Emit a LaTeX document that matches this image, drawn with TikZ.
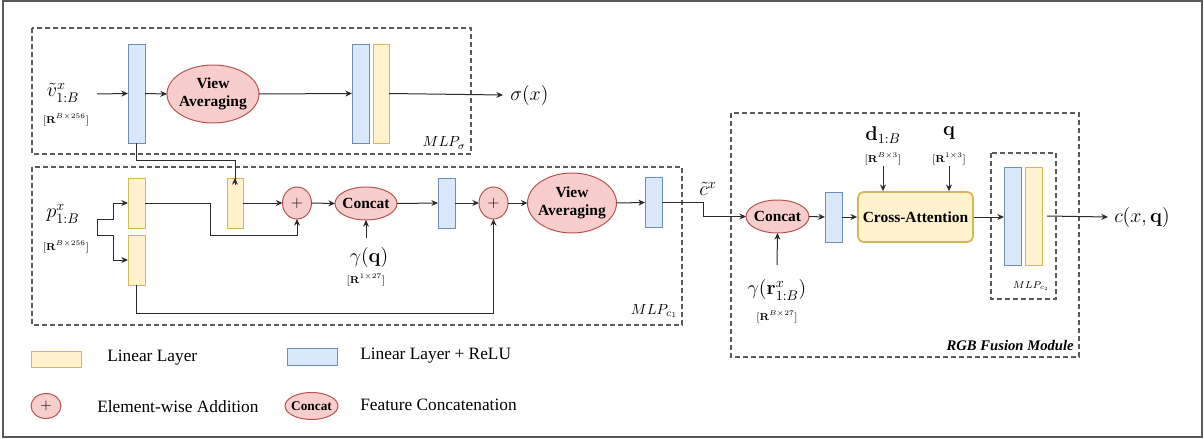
\documentclass[tikz,border=0pt]{standalone}
\usepackage{fix-cm}
\usepackage{amsmath}
\usepackage[no-math]{fontspec}
\setmainfont{Liberation Serif}
\usetikzlibrary{arrows.meta,shapes.geometric}

\definecolor{blueF}{HTML}{DAE8FC}
\definecolor{blueD}{HTML}{6C8EBF}
\definecolor{yelF}{HTML}{FFF2CC}
\definecolor{yelD}{HTML}{D6B656}
\definecolor{redF}{HTML}{F8CECC}
\definecolor{redD}{HTML}{B85450}
\definecolor{wirec}{HTML}{2B2B2B}
\definecolor{framec}{HTML}{5A5A5A}

\begin{document}
\begin{tikzpicture}[x=0.75pt,y=-0.75pt,
  bar/.style={draw,line width=0.75pt,inner sep=0,outer sep=0,minimum width=12.75pt},
  relu/.style={bar,draw=blueD,fill=blueF},
  lin/.style={bar,draw=yelD,fill=yelF},
  oper/.style={ellipse,draw=redD,fill=redF,line width=0.75pt,inner sep=0,outer sep=0},
  optext/.style={font=\fontsize{11.6}{13.5}\selectfont\bfseries,align=center},
  link/.style={draw=wirec,line width=0.75pt},
  arr/.style={link,-{Stealth[length=5pt,width=4.5pt]}},
  group/.style={draw=framec,line width=1pt,dash pattern=on 3.75pt off 2.25pt},
  big/.style={font=\fontsize{15}{17}\selectfont,inner sep=0},
  dims/.style={font=\fontsize{7.5}{9}\selectfont,inner sep=0},
  tag/.style={font=\fontsize{11}{13}\selectfont,inner sep=0},
  legtext/.style={font=\fontsize{13}{15}\selectfont,inner sep=0,anchor=west},
]
\useasboundingbox (0,0) rectangle (1204,439);
\draw[draw=framec,line width=1pt] (3,1) rectangle (1202,437);

% ---------- group frames ----------
\draw[group] (32,28) rectangle (471,154);
\draw[group] (32,167) rectangle (682,325);
\draw[group] (731,113) rectangle (1079,357);
\draw[group] (991,153) rectangle (1056,299);

\node[tag,anchor=east] at (466,143) {$MLP_{\sigma}$};
\node[tag,anchor=east] at (678,311) {$MLP_{c_1}$};
\node[font=\fontsize{7.5}{9}\selectfont,inner sep=0] at (1031,286) {$MLP_{c_2}$};
\node[font=\fontsize{11}{13}\selectfont\bfseries\itshape,inner sep=0,anchor=east] at (1074,345) {RGB Fusion Module};

% ---------- density branch ----------
\node[big] (vlab) at (63,93) {$\tilde{v}^{x}_{1:B}$};
\node[dims] (vdim) at (66,120) {$[\mathbf{R}^{B\times 256}]$};
\coordinate (vin) at (97,94);
\node[relu,minimum height=74.25pt] (b1) at (136.5,93.5) {};
\node[oper,minimum width=69pt,minimum height=43.5pt,
      label={[optext]center:View\\Averaging}] (va1) at (213,94) {};
\node[relu,minimum height=74.25pt] (b2) at (360.5,93.5) {};
\node[lin,minimum height=74.25pt,minimum width=12pt] (y1) at (381,93.5) {};
\node[big,anchor=west] (sig) at (510,95) {$\sigma(x)$};

\draw[arr] (vin) -- (b1.west);
\draw[arr] (b1.east) -- (va1.west);
\draw[arr] (va1.east) -- (b2.west);
\draw[arr] (y1.east) -- ([xshift=-5.25pt]sig.west);

% ---------- colour branch ----------
\node[big] (plab) at (63,214) {$p^{x}_{1:B}$};
\node[dims] (pdim) at (66,247) {$[\mathbf{R}^{B\times 256}]$};
\coordinate (fa) at (97,219);
\coordinate (fb) at (97,235);
\node[lin,minimum height=37.5pt] (yA) at (136.5,203) {};
\node[lin,minimum height=37.5pt] (yB) at (136.5,260) {};
\node[lin,minimum height=37.5pt,minimum width=12pt] (yC) at (235,203) {};
\node[oper,minimum width=21.75pt,minimum height=24pt] (p1) at (297,203) {\fontsize{12}{14}\selectfont$+$};
\node[oper,minimum width=46.5pt,minimum height=24.75pt,
      label={[optext]center:Concat}] (cc1) at (366,203.5) {};
\node[big] (gq) at (369,257) {$\gamma(\mathbf{q})$};
\node[dims] (gqdim) at (366,280) {$[\mathbf{R}^{1\times 27}]$};
\coordinate (gqtop) at (366,238);
\node[relu,minimum height=37.5pt] (bD) at (446.5,203) {};
\node[oper,minimum width=21.75pt,minimum height=24pt] (p2) at (493.5,203) {\fontsize{12}{14}\selectfont$+$};
\node[oper,minimum width=66.75pt,minimum height=45pt,
      label={[optext]center:View\\Averaging}] (va2) at (572,203) {};
\node[relu,minimum height=37pt] (bE) at (653.5,202.5) {};

\draw[link] (fa) -- (fb);
\draw[arr] (fa) -- ++(16,0) |- (yA.west);
\draw[arr] (fb) -- ++(16,0) |- (yB.west);
\draw[link] (b1.south) -- ++(0,17) coordinate (tap) -| ([yshift=-5pt]yC.north);
\draw[arr] ([yshift=-5pt]yC.north) -- (yC.north);
\draw[arr] (yA.east) -- ++(65,0) -- ++(0,32) -| (p1.south);
\draw[arr] (yC.east) -- (p1.west);
\draw[arr] (p1.east) -- (cc1.west);
\draw[arr] (gqtop) -- (cc1.south);
\draw[arr] (cc1.east) -- (bD.west);
\draw[arr] (bD.east) -- (p2.west);
\draw[arr] (yB.south) -- ++(0,28) -| (p2.south);
\draw[arr] (p2.east) -- (va2.west);
\draw[arr] (va2.east) -- (bE.west);

% ---------- RGB fusion module ----------
\node[big] (clab) at (708,189) {$\tilde{c}^{x}$};
\node[oper,minimum width=47.25pt,minimum height=24.75pt,
      label={[optext]center:Concat}] (cc2) at (777.5,216.5) {};
\node[big] (grq) at (777,290) {$\gamma(\mathbf{r}^{x}_{1:B})$};
\node[dims] (grqdim) at (777,317) {$[\mathbf{R}^{B\times 27}]$};
\coordinate (grqtop) at (777,265);
\node[relu,minimum height=37.5pt] (bF) at (833.5,217) {};
\node[draw=yelD,fill=yelF,line width=1.3pt,rounded corners=4pt,
      minimum width=86.25pt,minimum height=37.5pt,inner sep=0,
      font=\fontsize{11.6}{13}\selectfont\bfseries] (ca) at (915.5,217) {Cross-Attention};
\node[big] (dlab) at (883,135) {$\mathbf{d}_{1:B}$};
\node[dims] (ddim) at (883,159) {$[\mathbf{R}^{B\times 3}]$};
\coordinate (dtop) at (883,166);
\node[big] (qlab) at (949,133) {$\mathbf{q}$};
\node[dims] (qdim) at (949,159) {$[\mathbf{R}^{1\times 3}]$};
\coordinate (qtop) at (949,166);
\node[relu,minimum height=73.5pt] (bG) at (1012.5,216) {};
\node[lin,minimum height=73.5pt] (yH) at (1033.5,216) {};
\node[big,anchor=west] (cout) at (1114,217) {$c(x,\mathbf{q})$};

\draw[arr] (bE.east) -- ++(41,0) |- (cc2.west);
\draw[arr] (grqtop) -- (cc2.south);
\draw[arr] (cc2.east) -- (bF.west);
\draw[arr] (bF.east) -- (ca.west);
\draw[arr] (dtop) -- (dtop |- ca.north);
\draw[arr] (qtop) -- (qtop |- ca.north);
\draw[arr] (ca.east) -- (ca.east -| bG.west);
\draw[arr] ([xshift=3.75pt]yH.east) -- ([xshift=-4.5pt]cout.west);

% ---------- legend ----------
\node[lin,minimum width=37.5pt,minimum height=12pt] (kLin) at (56,359) {};
\node[legtext] (kLinT) at (107,358) {Linear Layer};
\node[relu,minimum width=37.5pt,minimum height=12.75pt] (kRelu) at (312,356.5) {};
\node[legtext] (kReluT) at (360,356) {Linear Layer + ReLU};
\node[oper,minimum width=22.5pt,minimum height=18.75pt] (kAdd) at (46,406) {\fontsize{11}{13}\selectfont$+$};
\node[legtext] (kAddT) at (97,407) {Element-wise Addition};
\node[oper,minimum width=39.75pt,minimum height=20.25pt,
      label={[font=\fontsize{10}{12}\selectfont\bfseries]center:Concat}] (kCat) at (311.5,406) {};
\node[legtext] (kCatT) at (360,405) {Feature Concatenation};
\end{tikzpicture}
\end{document}
